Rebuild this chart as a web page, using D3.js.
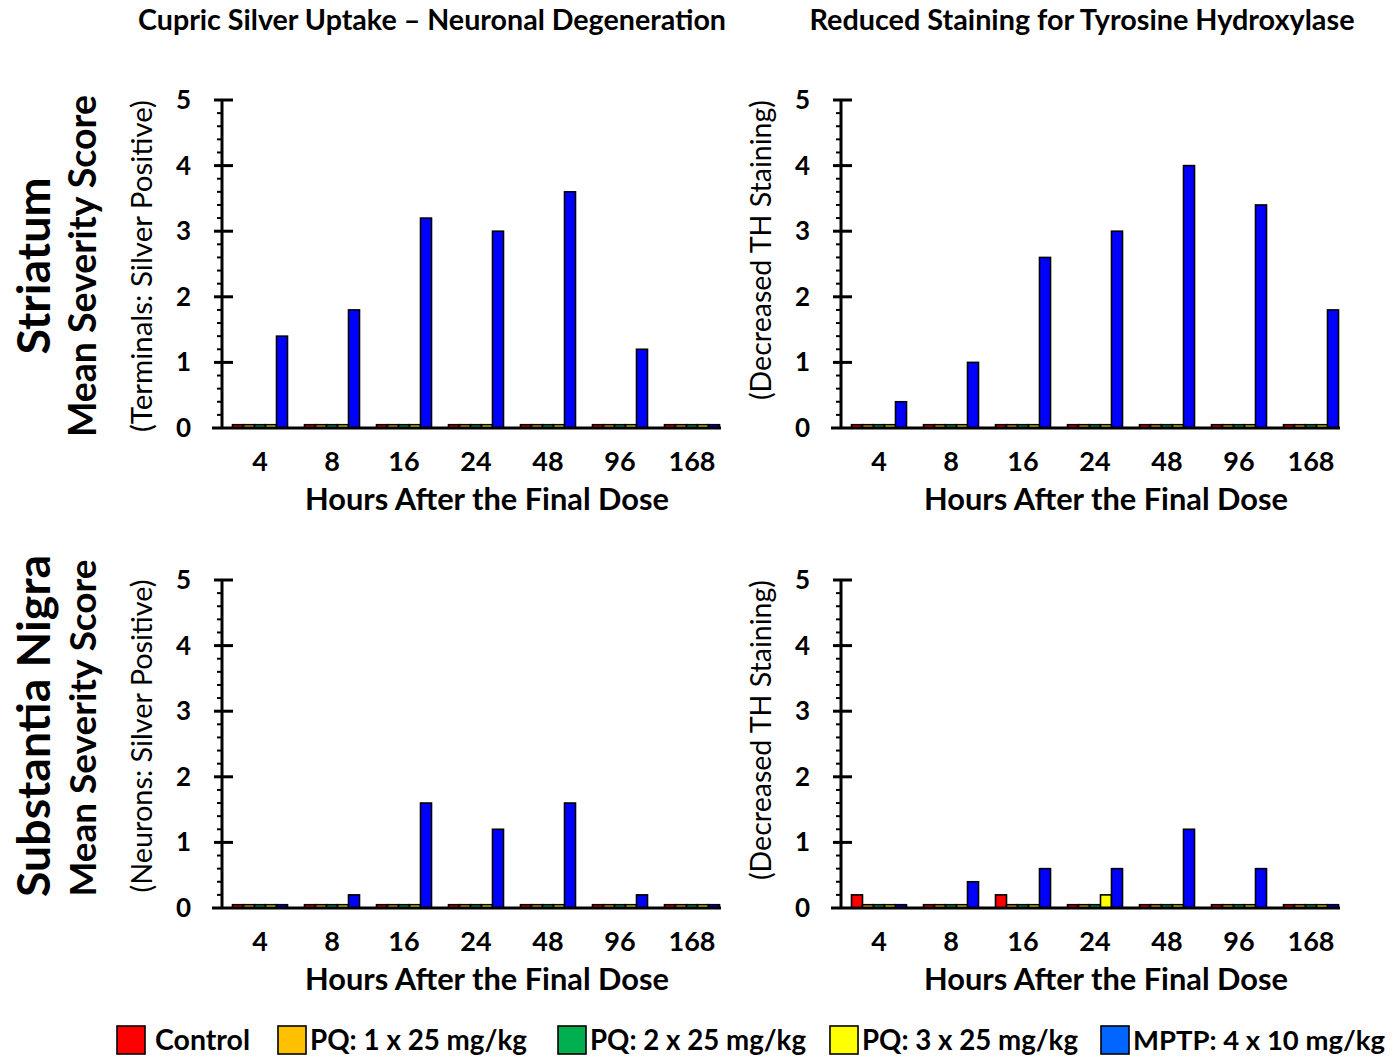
<!DOCTYPE html>
<html>
<head>
<meta charset="utf-8">
<script src="https://cdn.jsdelivr.net/npm/d3@7"></script>
<style>
  body { margin: 0; background: #fff; }
  svg { font-family: Lato, "Open Sans", sans-serif; }
</style>
</head>
<body>
<svg id="fig" width="1393" height="1059"></svg>
<script>
// categories and groups
const hours = ["4", "8", "16", "24", "48", "96", "168"];
const groups = ["Control", "PQ: 1 x 25 mg/kg", "PQ: 2 x 25 mg/kg", "PQ: 3 x 25 mg/kg", "MPTP: 4 x 10 mg/kg"];
const colors = ["#ff0000", "#ffc000", "#00b050", "#ffff00", "#0000ff"];
const legendColors = ["#ff0000", "#ffc000", "#00b050", "#ffff00", "#0066ff"];
const yTicks = [0, 1, 2, 3, 4, 5];

// mean severity scores, one array per group (order = groups)
const striatumSilver = [
  [0, 0, 0, 0, 0, 0, 0],
  [0, 0, 0, 0, 0, 0, 0],
  [0, 0, 0, 0, 0, 0, 0],
  [0, 0, 0, 0, 0, 0, 0],
  [1.4, 1.8, 3.2, 3.0, 3.6, 1.2, 0]
];
const striatumTH = [
  [0, 0, 0, 0, 0, 0, 0],
  [0, 0, 0, 0, 0, 0, 0],
  [0, 0, 0, 0, 0, 0, 0],
  [0, 0, 0, 0, 0, 0, 0],
  [0.4, 1.0, 2.6, 3.0, 4.0, 3.4, 1.8]
];
const nigraSilver = [
  [0, 0, 0, 0, 0, 0, 0],
  [0, 0, 0, 0, 0, 0, 0],
  [0, 0, 0, 0, 0, 0, 0],
  [0, 0, 0, 0, 0, 0, 0],
  [0, 0.2, 1.6, 1.2, 1.6, 0.2, 0]
];
const nigraTH = [
  [0.2, 0, 0.2, 0, 0, 0, 0],
  [0, 0, 0, 0, 0, 0, 0],
  [0, 0, 0, 0, 0, 0, 0],
  [0, 0, 0, 0.2, 0, 0, 0],
  [0, 0.4, 0.6, 0.6, 1.2, 0.6, 0]
];

const svg = d3.select("#fig");
const stub = 0.05; // zero scores drawn as a thin stub, like the original

// scale font so the text fills the width it has in the original
let fit = (sel, len) => {
  sel.each(function(d, i) {
    const L = typeof len === "function" ? len(d, i) : len;
    const fs = parseFloat(this.getAttribute("font-size"));
    const w = this.getComputedTextLength();
    if (w > 0) this.setAttribute("font-size", Math.min(fs * 1.35, fs * L / w).toFixed(2));
    this.setAttribute("textLength", L);
  });
  return sel;
};

const panels = [
  {data: striatumSilver, ax: 222, base: 428, sub: "(Terminals: Silver Positive)", subLen: 332, subY: 266},
  {data: striatumTH, ax: 841, base: 428, sub: "(Decreased TH Staining)", subLen: 300, subY: 250},
  {data: nigraSilver, ax: 222, base: 908, sub: "(Neurons: Silver Positive)", subLen: 313, subY: 736},
  {data: nigraTH, ax: 841, base: 908, sub: "(Decreased TH Staining)", subLen: 300, subY: 730}
];

let drawPanel = (p) => {
  const g = svg.append("g");
  const x = d3.scaleBand().domain(hours).range([p.ax + 2, p.ax + 506]);
  const xs = d3.scaleBand().domain(groups).range([8.5, 63.5]);
  const y = d3.scaleLinear().domain([0, 5]).range([p.base, p.base - 328]);

  // bars
  const rows = [];
  p.data.forEach((vals, gi) => vals.forEach((v, hi) => rows.push({h: hours[hi], grp: groups[gi], v: v, c: colors[gi]})));
  g.selectAll("rect.bar").data(rows).enter().append("rect")
    .attr("class", "bar")
    .attr("x", d => x(d.h) + xs(d.grp))
    .attr("width", xs.bandwidth())
    .attr("y", d => y(Math.max(d.v, stub)))
    .attr("height", d => y(0) - y(Math.max(d.v, stub)))
    .attr("fill", d => d.c)
    .attr("stroke", "#000")
    .attr("stroke-width", 1.6);

  // y axis: line, minor and major ticks
  g.append("line").attr("x1", p.ax).attr("x2", p.ax).attr("y1", y(5)).attr("y2", y(0))
    .attr("stroke", "#000").attr("stroke-width", 3);
  const minor = d3.range(0, 5.01, 0.2).filter(v => Math.abs(v - Math.round(v)) > 0.01);
  g.selectAll("line.minor").data(minor).enter().append("line")
    .attr("x1", p.ax - 5).attr("x2", p.ax)
    .attr("y1", d => y(d)).attr("y2", d => y(d))
    .attr("stroke", "#000").attr("stroke-width", 2);
  g.selectAll("line.major").data(yTicks.filter(v => v > 0)).enter().append("line")
    .attr("x1", p.ax - 8).attr("x2", p.ax + 11)
    .attr("y1", d => y(d)).attr("y2", d => y(d))
    .attr("stroke", "#000").attr("stroke-width", 3);
  g.selectAll("text.ytick").data(yTicks).enter().append("text")
    .attr("x", p.ax - 31).attr("y", d => y(d) + 9)
    .attr("text-anchor", "end")
    .attr("font-size", 26).attr("font-weight", "bold")
    .text(d => d);

  // x axis
  g.append("line").attr("x1", p.ax - 10).attr("x2", p.ax + 499).attr("y1", y(0)).attr("y2", y(0))
    .attr("stroke", "#000").attr("stroke-width", 3);
  g.selectAll("text.xtick").data(hours).enter().append("text")
    .attr("x", d => x(d) + x.bandwidth() / 2).attr("y", p.base + 43)
    .attr("text-anchor", "middle")
    .attr("font-size", 27).attr("font-weight", "bold")
    .text(d => d);
  fit(g.append("text")
    .attr("x", p.ax + 265).attr("y", p.base + 82)
    .attr("text-anchor", "middle")
    .attr("font-size", 25).attr("font-weight", "bold")
    .text("Hours After the Final Dose"), 364);

  // sub y label
  fit(g.append("text")
    .attr("transform", "translate(" + (p.ax - 70) + "," + p.subY + ") rotate(-90)")
    .attr("text-anchor", "middle")
    .attr("font-size", 22)
    .text(p.sub), p.subLen);
};

panels.forEach(drawPanel);

// column titles
fit(svg.append("text").attr("x", 432).attr("y", 30).attr("text-anchor", "middle")
  .attr("font-size", 22).attr("font-weight", "bold")
  .text("Cupric Silver Uptake \u2013 Neuronal Degeneration"), 588);
fit(svg.append("text").attr("x", 1082).attr("y", 30).attr("text-anchor", "middle")
  .attr("font-size", 22).attr("font-weight", "bold")
  .text("Reduced Staining for Tyrosine Hydroxylase"), 545);

// row titles
const rowTitles = [
  {t: "Striatum", x: 50, y: 266, size: 40, len: 177},
  {t: "Mean Severity Score", x: 96, y: 266, size: 31, len: 342},
  {t: "Substantia Nigra", x: 50, y: 726, size: 40, len: 342},
  {t: "Mean Severity Score", x: 96, y: 728, size: 31, len: 337}
];
fit(svg.selectAll("text.row").data(rowTitles).enter().append("text")
  .attr("transform", d => "translate(" + d.x + "," + d.y + ") rotate(-90)")
  .attr("text-anchor", "middle")
  .attr("font-size", d => d.size).attr("font-weight", "bold")
  .text(d => d.t), d => d.len);

// legend
const legX = [117, 278, 558, 830, 1101];
const legLen = [95, 217, 216, 216, 252];
const legend = svg.append("g").selectAll("g").data(groups).enter().append("g")
  .attr("transform", (d, i) => "translate(" + legX[i] + ",1026)");
legend.append("rect").attr("width", 28).attr("height", 28)
  .attr("fill", (d, i) => legendColors[i]).attr("stroke", "#000").attr("stroke-width", 1.6);
fit(legend.append("text").attr("x", (d, i) => i == 0 ? 38 : 32).attr("y", 24)
  .attr("font-size", 24).attr("font-weight", "bold")
  .text(d => d), (d, i) => legLen[i]);
</script>
</body>
</html>
